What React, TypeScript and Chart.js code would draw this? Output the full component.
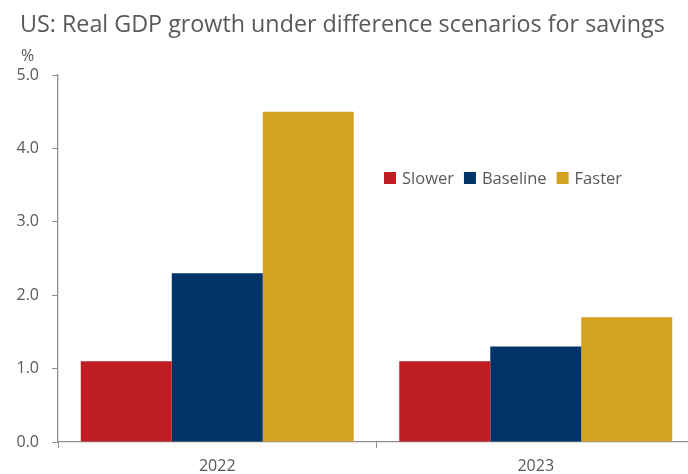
import React, { useEffect, useRef } from "react";
import { Chart, registerables } from "chart.js";

Chart.register(...registerables);

const categories = ["2022", "2023"];
const seriesNames = ["Slower", "Baseline", "Faster"];
const slower = [1.1, 1.1];
const baseline = [2.3, 1.3];
const faster = [4.5, 1.7];
const seriesColors = ["#BE1E24", "#003468", "#D3A21F"];
const titleText = "US: Real GDP growth under difference scenarios for savings";
const unitText = "%";
const yMin = 0;
const yMax = 5;
const yStep = 1;

const FONT = '"Open Sans", "Noto Sans", sans-serif';
const TEXT = "#595959";
const AXIS = "#8f8f8f";

const overlay = {
  id: "overlay",
  afterDraw(chart: any) {
    const ctx = chart.ctx;
    ctx.save();
    ctx.fillStyle = TEXT;
    ctx.textBaseline = "alphabetic";
    ctx.textAlign = "left";
    ctx.font = `23.3px ${FONT}`;
    ctx.fillText(titleText, 20, 32);
    ctx.font = `16px ${FONT}`;
    ctx.fillText(unitText, 21, 61);

    // legend
    ctx.font = `16.5px ${FONT}`;
    let x = 384;
    const yBox = 172;
    const box = 12;
    chart.data.datasets.forEach((ds: any) => {
      ctx.fillStyle = ds.backgroundColor;
      ctx.fillRect(x, yBox, box, box);
      ctx.fillStyle = TEXT;
      ctx.fillText(ds.label, x + box + 6, 184);
      x += box + 6 + ctx.measureText(ds.label).width + 10;
    });
    ctx.restore();
  },
};

export default function App() {
  const ref = useRef<HTMLCanvasElement>(null);
  useEffect(() => {
    if (!ref.current) return;
    const datasets = [slower, baseline, faster].map((d, i) => ({
      label: seriesNames[i],
      data: d,
      backgroundColor: seriesColors[i],
      borderWidth: 0,
      categoryPercentage: 0.857,
      barPercentage: 1.0,
    }));
    const chart = new Chart(ref.current, {
      type: "bar",
      data: { labels: categories, datasets },
      options: {
        responsive: false,
        animation: false,
        layout: { padding: { left: 0, right: 5, top: 75, bottom: 0 } },
        plugins: {
          legend: { display: false },
          title: { display: false },
          tooltip: { enabled: false },
        },
        scales: {
          x: {
            grid: {
              display: true,
              drawOnChartArea: false,
              drawTicks: true,
              tickLength: 6,
              color: AXIS,
              offset: true,
            },
            border: { color: AXIS, width: 1.3 },
            ticks: {
              color: TEXT,
              font: { family: FONT, size: 16 },
              padding: 9,
            },
            afterFit(scale: any) {
              scale.height = 32;
            },
          },
          y: {
            min: yMin,
            max: yMax,
            grid: {
              display: true,
              drawOnChartArea: false,
              drawTicks: true,
              tickLength: 6,
              color: AXIS,
            },
            border: { color: AXIS, width: 1.3 },
            ticks: {
              stepSize: yStep,
              color: TEXT,
              font: { family: FONT, size: 16 },
              padding: 13,
              callback: (v: any) => Number(v).toFixed(1),
            },
            afterFit(scale: any) {
              scale.width = 58;
            },
          },
        },
      },
      plugins: [overlay],
    });
    return () => chart.destroy();
  }, []);
  return (
    <div
      style={{
        position: "fixed",
        left: 0,
        top: 0,
        width: 688,
        height: 474,
        overflow: "hidden",
        background: "#fff",
      }}
    >
      <canvas ref={ref} width={700} height={474} style={{ display: "block" }} />
    </div>
  );
}
